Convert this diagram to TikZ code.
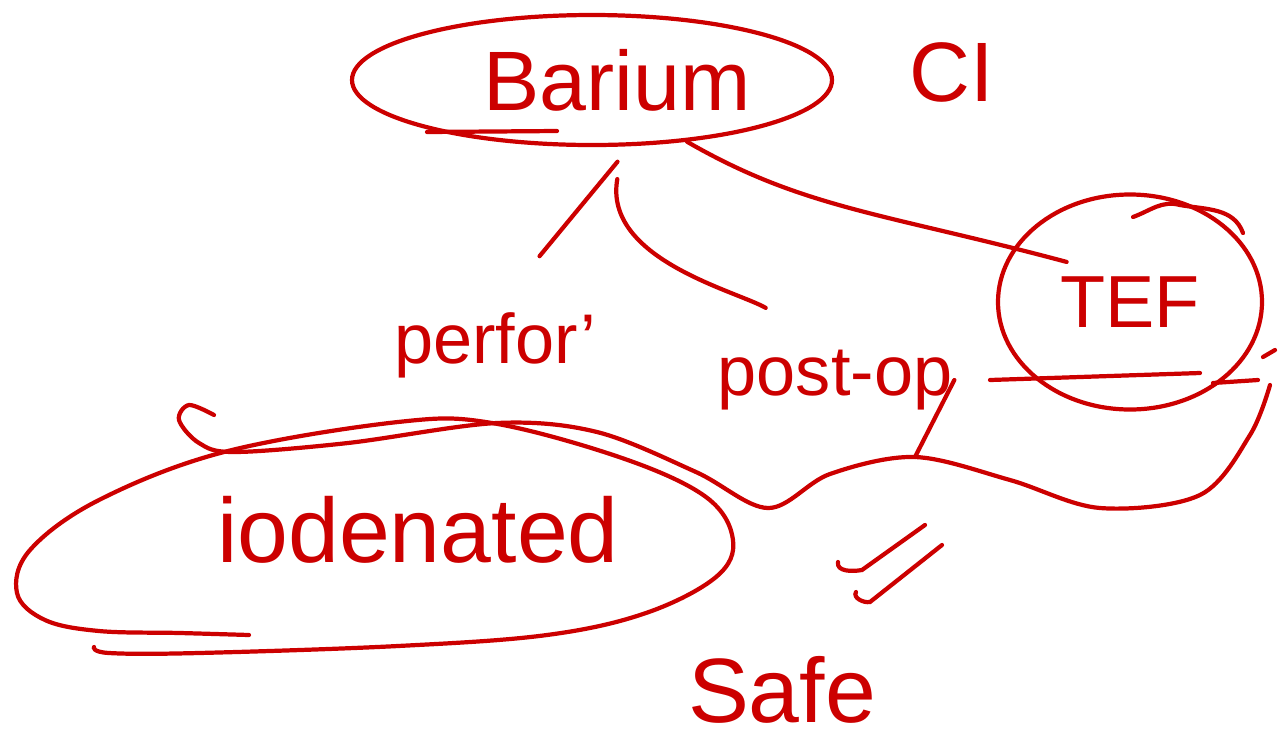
\documentclass[tikz,border=0pt]{standalone}
\usepackage{fontspec}
\setmainfont{Liberation Sans}
\usetikzlibrary{shapes.geometric}
\definecolor{ink}{RGB}{204,0,0}
\begin{document}
\begin{tikzpicture}[ink, line width=1.2pt, line cap=round, every node/.style={text=ink,inner sep=0pt},
  blob/.style={draw,ellipse,line width=1.2pt},
  word/.style={font=\fontsize{20}{24}\selectfont}]
\useasboundingbox (0,0) rectangle (12.81,-7.44);
\node[blob,minimum width=4.8cm,minimum height=1.3cm,font=\fontsize{24}{28}\selectfont] (bar) at (5.92,-0.80) {\hspace*{0.5cm}Barium};
\node[font=\fontsize{24}{28}\selectfont] (ci) at (9.52,-0.72) {CI};
\node[word] (perf) at (4.95,-3.45) {perfor'};
\node[word] (post) at (8.35,-3.80) {post-op};
\node[blob,minimum width=2.64cm,minimum height=2.15cm,font=\fontsize{21}{24}\selectfont] (tef) at (11.30,-3.02) {TEF};
\node[font=\fontsize{26}{30}\selectfont] (iod) at (4.18,-5.30) {iodenated};
\node[font=\fontsize{26}{30}\selectfont] (safe) at (7.82,-6.90) {Safe};
% branches from barium
\draw[shorten <=0.2cm,shorten >=0.7cm] (bar.-60) -- (perf.north);
\draw[shorten <=0.33cm,shorten >=0.8cm] (bar.-65) to[out=-100,in=150] (post.north);
\draw[shorten >=-0.55cm] (bar.-33) to[out=-30,in=165] (tef.155);
% loop round iodenated
\draw plot[smooth,tension=0.6] coordinates {(2.49,-6.35) (1.80,-6.33) (0.99,-6.31) (0.45,-6.20) (0.17,-5.93) (0.30,-5.50) (0.99,-5.00) (2.24,-4.52) (3.98,-4.22) (4.92,-4.23) (6.22,-4.58) (7.06,-4.97) (7.33,-5.40) (7.16,-5.77) (6.46,-6.13) (5.47,-6.35) (3.98,-6.46) (1.99,-6.53) (1.09,-6.53) (0.94,-6.47)};
% underlines
\draw (4.27,-1.32) -- (5.57,-1.31);
\draw (9.90,-3.80) -- (12.00,-3.73);
\draw (12.13,-3.83) -- (12.58,-3.80) (12.63,-3.57) -- (12.75,-3.50);
\draw (11.33,-2.17) to[out=20,in=165] (11.80,-2.05) to[out=-10,in=110] (12.43,-2.33);
% enclosing stroke
\coordinate (sag) at (9.15,-4.57);
\draw plot[smooth,tension=0.55] coordinates {(2.14,-4.15) (1.89,-4.05) (1.79,-4.20) (1.99,-4.43) (2.34,-4.52) (3.48,-4.43) (4.97,-4.23) (5.97,-4.32) (6.96,-4.72) (7.68,-5.08) (8.30,-4.74) (sag) (10.10,-4.80) (11.00,-5.08) (12.00,-4.95) (12.50,-4.35) (12.70,-3.85)};
\draw (sag) -- (post.east);
% equals marks
\draw (8.38,-5.62) to[out=-100,in=190] (8.62,-5.70) -- (9.25,-5.25);
\draw (8.56,-5.92) to[out=-120,in=190] (8.70,-6.02) -- (9.42,-5.45);
\end{tikzpicture}
\end{document}
